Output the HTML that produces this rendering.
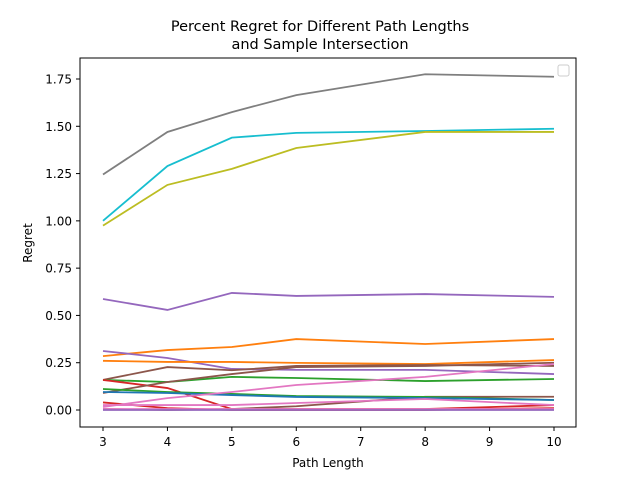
<!DOCTYPE html>
<html><head><meta charset="utf-8"><style>
body{margin:0;background:#fff;}
svg text{font-family:"DejaVu Sans","Liberation Sans",sans-serif;fill:#000;}
</style></head><body>
<svg id="chart" width="640" height="480" xmlns="http://www.w3.org/2000/svg">
<rect width="640" height="480" fill="#fff"/>
<g id="marks"></g>
<rect x="80" y="58" width="496" height="369" fill="none" stroke="#000" stroke-width="1"/>
<g id="xticks"></g>
<g id="yticks"></g>
<text x="320" y="31" font-size="14.5" text-anchor="middle">Percent Regret for Different Path Lengths</text>
<text x="320" y="49" font-size="14.5" text-anchor="middle">and Sample Intersection</text>
<text x="328" y="467" font-size="12" text-anchor="middle">Path Length</text>
<text x="32" y="243" font-size="12" text-anchor="middle" transform="rotate(-90 32 243)">Regret</text>
<rect x="558" y="65" width="11" height="11" rx="2" fill="#fff" stroke="#ccc"/>
</svg>
<script>
const xValues = [3,4,5,6,8,10];
const xTicks = [3,4,5,6,7,8,9,10];
const yTicks = [0,0.25,0.5,0.75,1.0,1.25,1.5,1.75];
const seriesColors = ['#7f7f7f','#17becf','#bcbd22','#9467bd','#ff7f0e','#9467bd','#ff7f0e','#8c564b','#2ca02c','#d62728','#d62728','#8c564b','#8c564b','#2ca02c','#1f77b4','#e377c2','#e377c2','#e377c2','#9467bd'];
const s0 = [1.245,1.47,1.575,1.665,1.775,1.762];
const s1 = [1.0,1.29,1.44,1.465,1.475,1.487];
const s2 = [0.975,1.19,1.275,1.385,1.47,1.47];
const s3 = [0.587,0.529,0.619,0.603,0.613,0.598];
const s4 = [0.285,0.317,0.333,0.375,0.349,0.375];
const s5 = [0.312,0.275,0.217,0.212,0.212,0.19];
const s6 = [0.26,0.254,0.254,0.249,0.243,0.264];
const s7 = [0.159,0.227,0.21,0.233,0.238,0.233];
const s8 = [0.159,0.148,0.175,0.169,0.153,0.164];
const s9 = [0.159,0.116,0.005,0.005,0.005,0.026];
const s10 = [0.04,0.01,0.0,0.0,0.0,0.01];
const s11 = [0.09,0.148,0.19,0.227,0.233,0.25];
const s12 = [0.005,0.0,0.005,0.02,0.07,0.07];
const s13 = [0.111,0.095,0.085,0.074,0.069,0.053];
const s14 = [0.095,0.09,0.079,0.069,0.063,0.053];
const s15 = [0.016,0.063,0.095,0.132,0.175,0.243];
const s16 = [0.026,0.026,0.026,0.037,0.058,0.026];
const s17 = [0.005,0.005,0.005,0.005,0.005,0.005];
const s18 = [0.0,0.0,0.0,0.0,0.0,0.0];
const series = [s0,s1,s2,s3,s4,s5,s6,s7,s8,s9,s10,s11,s12,s13,s14,s15,s16,s17,s18];

const NS = 'http://www.w3.org/2000/svg';
function xs(v){return 103 + (v-3)*(554-103)/7;}
function ys(v){return 410 - v*(410-79)/1.75;}
const marks = document.getElementById('marks');
series.forEach((d,i)=>{
  const p = document.createElementNS(NS,'polyline');
  p.setAttribute('points', d.map((v,j)=>xs(xValues[j])+','+ys(v)).join(' '));
  p.setAttribute('fill','none');
  p.setAttribute('stroke',seriesColors[i]);
  p.setAttribute('stroke-width','1.8');
  
  
  marks.appendChild(p);
});
const xg = document.getElementById('xticks');
xTicks.forEach(t=>{
  const l = document.createElementNS(NS,'line');
  l.setAttribute('x1',xs(t));l.setAttribute('x2',xs(t));l.setAttribute('y1',427);l.setAttribute('y2',431);l.setAttribute('stroke','#000');
  
  
  xg.appendChild(l);
  const tx = document.createElementNS(NS,'text');
  tx.setAttribute('x',xs(t));tx.setAttribute('y',446);tx.setAttribute('font-size','12');tx.setAttribute('text-anchor','middle');
  tx.textContent = t;
  
  
  xg.appendChild(tx);
});
const yg = document.getElementById('yticks');
yTicks.forEach(t=>{
  const l = document.createElementNS(NS,'line');
  l.setAttribute('x1',76);l.setAttribute('x2',80);l.setAttribute('y1',ys(t));l.setAttribute('y2',ys(t));l.setAttribute('stroke','#000');
  
  
  yg.appendChild(l);
  const tx = document.createElementNS(NS,'text');
  tx.setAttribute('x',72);tx.setAttribute('y',ys(t)+4.5);tx.setAttribute('font-size','12');tx.setAttribute('text-anchor','end');
  tx.textContent = t.toFixed(2);
  
  
  yg.appendChild(tx);
});
</script>
</body></html>
